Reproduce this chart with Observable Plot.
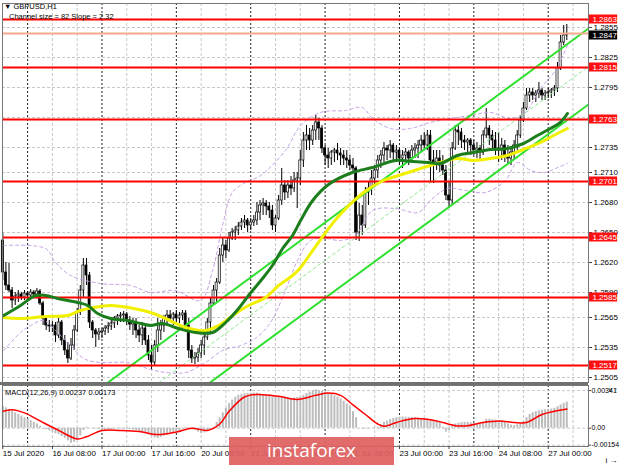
<!DOCTYPE html>
<html><head><meta charset="utf-8">
<script src="https://cdn.jsdelivr.net/npm/d3@7"></script>
<script src="https://cdn.jsdelivr.net/npm/@observablehq/plot@0.6"></script>
<style>
body{margin:0;background:#fff;}
#wrap{position:relative;width:620px;height:465px;overflow:hidden;background:#fff;font-family:"Liberation Sans",Arial,sans-serif;}
#main,#macd{position:absolute;left:0;}
#main{top:0} #macd{top:384px}
.t{position:absolute;font-size:7.5px;color:#000;white-space:nowrap;line-height:1;}
#sep{position:absolute;left:0;top:382px;width:588px;height:3px;background:#707070;}
#wm{position:absolute;left:229px;top:437px;width:165px;height:28px;background:rgba(224,96,96,0.92);color:#fff;font-family:"Open Sans",sans-serif;font-size:19px;line-height:27px;text-align:center;}
</style></head><body><div id="wrap">
<div id="main"></div><div id="macd"></div><div id="sep"></div>
<div class="t" style="left:4px;top:3px">&#9660; GBPUSD,H1</div>
<div class="t" style="left:9px;top:13px">Channel size = 82 Slope = 2.32</div>
<div class="t" style="left:5px;top:389px">MACD(12,26,9) 0.00237 0.00173</div>
<div id="wm">instaforex</div>
</div>
<script>
// ---- price data (H1 bars, 15 Jul 16:00 -> 27 Jul 06:00) ----
const firstOpen = 1.2642;
const close = [
1.2610,1.2597,1.2592,1.2582,1.2586,1.2588,1.2585,1.2589,1.2587,1.2590,
1.2588,1.2591,1.2579,1.2564,1.2557,1.2556,1.2557,1.2547,1.2560,1.2542,
1.2532,1.2524,1.2537,1.2552,1.2570,1.2592,1.2617,1.2607,1.2560,1.2552,
1.2548,1.2550,1.2551,1.2554,1.2556,1.2559,1.2564,1.2566,1.2567,1.2568,
1.2562,1.2558,1.2560,1.2552,1.2547,1.2554,1.2542,1.2527,1.2520,1.2537,
1.2552,1.2557,1.2564,1.2567,1.2564,1.2568,1.2564,1.2567,1.2569,1.2557,
1.2532,1.2524,1.2525,1.2529,1.2537,1.2545,1.2560,1.2579,1.2592,1.2600,
1.2627,1.2637,1.2632,1.2644,1.2650,1.2652,1.2656,1.2660,1.2662,1.2657,
1.2660,1.2662,1.2670,1.2677,1.2679,1.2676,1.2672,1.2657,1.2664,1.2682,
1.2697,1.2690,1.2697,1.2694,1.2702,1.2704,1.2722,1.2742,1.2747,1.2742,
1.2752,1.2760,1.2754,1.2734,1.2727,1.2724,1.2730,1.2732,1.2729,1.2727,
1.2724,1.2722,1.2717,1.2714,1.2650,1.2667,1.2657,1.2690,1.2694,1.2704,
1.2712,1.2722,1.2727,1.2734,1.2732,1.2737,1.2730,1.2732,1.2724,1.2727,
1.2730,1.2724,1.2732,1.2734,1.2737,1.2742,1.2737,1.2747,1.2722,1.2720,
1.2724,1.2717,1.2712,1.2687,1.2682,1.2734,1.2752,1.2750,1.2742,1.2740,
1.2742,1.2737,1.2732,1.2734,1.2730,1.2747,1.2754,1.2747,1.2742,1.2734,
1.2732,1.2737,1.2727,1.2724,1.2730,1.2737,1.2747,1.2762,1.2774,1.2787,
1.2790,1.2787,1.2789,1.2792,1.2787,1.2789,1.2790,1.2792,1.2794,1.2814,
1.2840,1.2847,1.2847];
const high = [
1.2649,1.2620,1.2619,1.2595,1.2590,1.2592,1.2590,1.2592,1.2591,1.2593,
1.2592,1.2594,1.2593,1.2581,1.2567,1.2562,1.2561,1.2560,1.2564,1.2562,
1.2547,1.2540,1.2544,1.2557,1.2574,1.2597,1.2624,1.2624,1.2610,1.2562,
1.2554,1.2554,1.2554,1.2557,1.2560,1.2562,1.2566,1.2568,1.2570,1.2571,
1.2570,1.2566,1.2564,1.2564,1.2557,1.2560,1.2556,1.2547,1.2537,1.2542,
1.2564,1.2562,1.2567,1.2572,1.2572,1.2570,1.2572,1.2570,1.2572,1.2572,
1.2564,1.2537,1.2530,1.2534,1.2542,1.2550,1.2564,1.2584,1.2597,1.2604,
1.2634,1.2644,1.2642,1.2650,1.2654,1.2656,1.2660,1.2664,1.2667,1.2664,
1.2664,1.2667,1.2680,1.2682,1.2684,1.2682,1.2680,1.2677,1.2667,1.2687,
1.2714,1.2702,1.2702,1.2706,1.2710,1.2710,1.2732,1.2750,1.2757,1.2754,
1.2757,1.2767,1.2764,1.2757,1.2737,1.2734,1.2732,1.2734,1.2739,1.2734,
1.2732,1.2732,1.2727,1.2724,1.2716,1.2679,1.2677,1.2695,1.2700,1.2712,
1.2717,1.2727,1.2732,1.2740,1.2737,1.2742,1.2739,1.2737,1.2734,1.2732,
1.2734,1.2732,1.2737,1.2739,1.2742,1.2747,1.2750,1.2752,1.2752,1.2732,
1.2732,1.2732,1.2727,1.2717,1.2700,1.2740,1.2757,1.2757,1.2754,1.2747,
1.2744,1.2744,1.2742,1.2740,1.2737,1.2752,1.2774,1.2757,1.2752,1.2750,
1.2750,1.2744,1.2742,1.2737,1.2734,1.2742,1.2752,1.2767,1.2780,1.2794,
1.2794,1.2794,1.2792,1.2800,1.2794,1.2792,1.2794,1.2794,1.2797,1.2820,
1.2847,1.2857,1.2858];
const low = [
1.2602,1.2592,1.2590,1.2574,1.2577,1.2580,1.2582,1.2582,1.2582,1.2584,
1.2585,1.2585,1.2577,1.2557,1.2552,1.2550,1.2550,1.2540,1.2544,1.2537,
1.2527,1.2519,1.2522,1.2532,1.2550,1.2567,1.2584,1.2597,1.2554,1.2544,
1.2535,1.2542,1.2544,1.2547,1.2549,1.2552,1.2554,1.2557,1.2560,1.2560,
1.2557,1.2552,1.2547,1.2544,1.2540,1.2537,1.2537,1.2522,1.2512,1.2516,
1.2530,1.2542,1.2550,1.2557,1.2560,1.2557,1.2560,1.2559,1.2562,1.2554,
1.2524,1.2519,1.2518,1.2520,1.2524,1.2527,1.2542,1.2550,1.2577,1.2580,
1.2598,1.2620,1.2624,1.2630,1.2642,1.2642,1.2647,1.2652,1.2654,1.2650,
1.2652,1.2656,1.2657,1.2662,1.2667,1.2667,1.2664,1.2652,1.2650,1.2662,
1.2677,1.2682,1.2684,1.2687,1.2690,1.2674,1.2697,1.2715,1.2732,1.2732,
1.2737,1.2742,1.2742,1.2729,1.2717,1.2714,1.2717,1.2720,1.2722,1.2717,
1.2717,1.2714,1.2712,1.2710,1.2642,1.2641,1.2647,1.2654,1.2677,1.2687,
1.2697,1.2704,1.2714,1.2720,1.2722,1.2724,1.2722,1.2720,1.2717,1.2714,
1.2720,1.2717,1.2720,1.2724,1.2724,1.2730,1.2732,1.2732,1.2699,1.2699,
1.2712,1.2710,1.2707,1.2682,1.2674,1.2678,1.2732,1.2737,1.2734,1.2732,
1.2730,1.2727,1.2727,1.2724,1.2722,1.2727,1.2744,1.2737,1.2732,1.2727,
1.2720,1.2722,1.2720,1.2719,1.2717,1.2722,1.2732,1.2744,1.2760,1.2772,
1.2780,1.2782,1.2780,1.2784,1.2782,1.2782,1.2784,1.2784,1.2786,1.2790,
1.2812,1.2837,1.2842];

// moving averages and bands: [bar index, price]
const maGreen = [[0.3,1.2567],[5.7,1.2577],[10.6,1.2587],[13.8,1.2587],[17.7,1.2584],[24.1,1.2580],[27.4,1.2577],[30.6,1.2569],[34.8,1.2564],[40.3,1.2562],[44.5,1.2559],[47.7,1.2557],[51.5,1.2559],[56.7,1.2554],[62.2,1.2550],[67.7,1.2550],[71.9,1.2560],[76.1,1.2574],[79.3,1.2587],[83.8,1.2604],[87,1.2617],[90.3,1.2634],[93.5,1.2647],[96.1,1.2662],[100,1.2682],[105.1,1.2698],[112.8,1.2710],[119.3,1.2715],[126.7,1.2722],[132.2,1.2721],[137.4,1.2720],[141.2,1.2719],[146.7,1.2727],[151.9,1.2730],[157.4,1.2733],[162.8,1.2734],[168,1.2739],[172.5,1.2747],[176.7,1.2754],[179.9,1.2760],[182.2,1.2769]];
const maYellow = [[0.3,1.2565],[5.7,1.2564],[13.8,1.2566],[20.9,1.2567],[25.1,1.2572],[29.3,1.2575],[34.8,1.2577],[42.2,1.2574],[47.7,1.2570],[52.5,1.2564],[59,1.2555],[65.4,1.2552],[69.6,1.2557],[75.1,1.2569],[79.3,1.2577],[84.8,1.2585],[89,1.2597],[93.5,1.2607],[96.1,1.2615],[100,1.2632],[108,1.2665],[116.4,1.2690],[122.8,1.2702],[126.7,1.2706],[133.8,1.2713],[141.2,1.2720],[146.7,1.2724],[151.9,1.2722],[157.4,1.2724],[162.8,1.2727],[168,1.2733],[173.5,1.2740],[177.7,1.2747],[182.2,1.2754]];
const bandUpper = [[0.3,1.2637],[13.8,1.2634],[17,1.2620],[21.9,1.2607],[31.5,1.2599],[41.2,1.2597],[47.7,1.2590],[55.7,1.2592],[63.8,1.2582],[67.7,1.2612],[70.9,1.2657],[74.1,1.2690],[78.3,1.2700],[83.2,1.2707],[91.2,1.2732],[96.1,1.2757],[102.5,1.2770],[110.6,1.2772],[116,1.2775],[119.3,1.2764],[125.1,1.2754],[131.5,1.2754],[138,1.2760],[144.5,1.2764],[150.9,1.2767],[157.4,1.2770],[163.8,1.2764],[168.6,1.2770],[173.5,1.2794],[178.3,1.2812],[182.2,1.2837]];
const bandLower = [[0.3,1.2532],[5.7,1.2550],[9,1.2557],[13.2,1.2562],[17,1.2552],[21.9,1.2537],[26.1,1.2524],[31.5,1.2520],[40.3,1.2520],[46.7,1.2514],[52.5,1.2510],[59,1.2510],[65.4,1.2520],[70.9,1.2532],[76.7,1.2537],[81.5,1.2544],[86.4,1.2560],[91.2,1.2592],[95.4,1.2624],[99.3,1.2642],[104.1,1.2644],[109,1.2642],[113.8,1.2647],[119.3,1.2672],[126.7,1.2674],[134,1.2670],[138,1.2682],[143.5,1.2694],[149.3,1.2692],[155.7,1.2690],[162.2,1.2702],[166,1.2720],[170.3,1.2712],[175.1,1.2710],[178.3,1.2714],[182.2,1.2719]];

// regression channel end points
const channelIdx = [30, 189];
const channelUpper = [1.2491, 1.2854];
const channelMiddle = [1.24535, 1.2816];
const channelLower = [1.2416, 1.2778];

// horizontal levels
const levels = [1.2863, 1.2815, 1.2763, 1.2701, 1.2645, 1.2585, 1.2517];
const bidLine = 1.2849;
const bidLabel = 1.2847;
const priceGrid = [1.2855,1.2825,1.2795,1.2765,1.2735,1.2710,1.2680,1.2650,1.2620,1.2590,1.2565,1.2535,1.2505];
const priceTicks = [1.2855,1.2825,1.2795,1.2735,1.2710,1.2680,1.2650,1.2620,1.2590,1.2565,1.2535,1.2505];

// time axis
const labelIdx = [0,16,32,48,64,80,96,112,128,144,160,176];
const timeLabels = ["15 Jul 2020","16 Jul 08:00","17 Jul 00:00","17 Jul 16:00","20 Jul 08:00","21 Jul 00:00","21 Jul 16:00","22 Jul 08:00","23 Jul 00:00","23 Jul 16:00","24 Jul 08:00","27 Jul 00:00"];
const gridIdx = [16,24,40,48,64,72,88,96,112,120,136,144,160,168,184];
const dayIdx = [8,32,56,80,104,128,152,176];

// MACD (12,26,9): main values per bar, in 0.00001 units
const macdMainPts = [
197,185,170,153,140,125,110,95,82,68,
52,38,18,0,-12,-24,-35,-50,-58,-75,
-92,-115,-136,-128,-107,-70,-20,9,-2,-5,
-6,-12,-20,-18,-15,-12,-8,-5,-6,-8,
-10,-14,-17,-20,-30,-38,-48,-62,-78,-88,
-92,-82,-72,-64,-52,-42,-30,-20,-5,9,
-5,-15,-20,-35,-50,-42,-30,-20,10,52,
95,139,180,225,255,280,298,305,312,315,
316,318,318,312,306,300,298,290,286,283,
278,272,269,270,274,278,283,298,315,327,
338,347,340,333,327,315,305,294,283,265,
245,220,197,150,95,0,-8,-6,-6,0,
5,9,30,52,65,78,88,95,99,101,
100,98,96,95,92,88,85,81,70,60,
55,52,10,-35,-20,20,38,45,50,52,
52,48,44,40,38,55,81,81,76,72,
68,66,52,38,28,23,30,38,60,95,
124,140,150,155,162,166,170,173,180,195,
211,225,237];
// signal line: [bar index, value in 0.00001 units]
const macdSignalPts = [[0,153],[3,168],[7,139],[12,66],[18,-20],[24,-98],[27,-78],[32,-20],[38,-20],[44,-29],[50,-58],[56,-35],[61,0],[66,-20],[70,38],[73,153],[78,283],[82,306],[89,289],[95,260],[101,298],[105,318],[109,298],[113,211],[117,124],[121,38],[123,17],[127,52],[133,87],[140,66],[146,23],[150,23],[155,52],[160,66],[165,52],[169,52],[174,124],[178,153],[182,173]];
const macdTicks = [0.00341, 0, -0.00154];

// ---- build ----
const bars = close.map((c, i) => ({i, o: i === 0 ? firstOpen : close[i - 1], h: high[i], l: low[i], c}));
const xDom = [-0.1, 189];
const font = "Liberation Sans, Arial, sans-serif";
const P = d => d[1];

const mainChart = Plot.plot({
  width: 620, height: 384, marginLeft: 2, marginRight: 32, marginTop: 3, marginBottom: 2,
  x: {domain: xDom, axis: null},
  y: {domain: [1.2500, 1.2879], axis: null},
  style: {fontFamily: font, background: "#fff"},
  marks: [
    Plot.ruleY(priceGrid, {stroke: "#c8c8c8", strokeDasharray: "3,2"}),
    Plot.ruleX(gridIdx, {stroke: "#c8c8c8", strokeDasharray: "3,2"}),
    Plot.ruleX(dayIdx, {stroke: "#222", strokeDasharray: "2,2"}),
    Plot.ruleX(bars, {x: "i", y1: d => Math.min(d.l, d.o, d.c), y2: d => Math.max(d.h, d.o, d.c), stroke: "#000", strokeWidth: 1}),
    Plot.rect(bars, {x1: d => d.i - 0.33, x2: d => d.i + 0.33,
      y1: d => Math.min(d.o, d.c), y2: d => Math.max(d.o, d.c) + (d.o === d.c ? 0.00003 : 0),
      fill: d => d.c >= d.o ? "#fff" : "#000", stroke: "#000", strokeWidth: 0.7}),
    Plot.line(bandUpper, {x: d => d[0], y: P, stroke: "#c59fe6", strokeWidth: 1, strokeDasharray: "3,3", curve: "catmull-rom"}),
    Plot.line(bandLower, {x: d => d[0], y: P, stroke: "#c59fe6", strokeWidth: 1, strokeDasharray: "3,3", curve: "catmull-rom"}),
    Plot.line(channelIdx.map((x, k) => [x, channelMiddle[k]]), {x: d => d[0], y: P, stroke: "#8fe88f", strokeWidth: 1, strokeDasharray: "3,3", clip: true}),
    Plot.line(channelIdx.map((x, k) => [x, channelUpper[k]]), {x: d => d[0], y: P, stroke: "#2fe02f", strokeWidth: 2, clip: true}),
    Plot.line(channelIdx.map((x, k) => [x, channelLower[k]]), {x: d => d[0], y: P, stroke: "#2fe02f", strokeWidth: 2, clip: true}),
    Plot.ruleY([bidLine], {stroke: "#f5a98e", strokeWidth: 2}),
    Plot.ruleY(levels, {stroke: "#ff0000", strokeWidth: 2}),
    Plot.line(maYellow, {x: d => d[0], y: P, stroke: "#f0f000", strokeWidth: 3, curve: "catmull-rom"}),
    Plot.line(maGreen, {x: d => d[0], y: P, stroke: "#1b7d1b", strokeWidth: 3, curve: "catmull-rom"}),
    Plot.frame({stroke: "#777"}),
    Plot.axisY({anchor: "right", ticks: priceTicks, tickFormat: d3.format(".4f"), tickSize: 3, tickPadding: 2, fontSize: 8, fill: "#000", stroke: "#444"}),
    Plot.rect([bidLabel], {x1: () => 189.3, x2: () => 198.4, y1: d => d - 0.00045, y2: d => d + 0.00045, fill: "#000"}),
    Plot.text([bidLabel], {x: () => 189.3, y: d => d, text: d => d.toFixed(4), fill: "#fff", textAnchor: "start", dx: 3, fontSize: 8}),
    Plot.rect(levels, {x1: () => 189.3, x2: () => 198.4, y1: d => d - 0.00045, y2: d => d + 0.00045, fill: "#ff1010"}),
    Plot.text(levels, {x: () => 189.3, y: d => d, text: d => d.toFixed(4), fill: "#fff", textAnchor: "start", dx: 3, fontSize: 8})
  ]
});
document.getElementById("main").appendChild(mainChart);

const hist = macdMainPts.map((v, i) => ({i, v: v / 1e5}));
const sig = macdSignalPts.map(([i, v]) => ({i, v: v / 1e5}));
const macdChart = Plot.plot({
  width: 620, height: 81, marginLeft: 2, marginRight: 32, marginTop: 1, marginBottom: 19,
  x: {domain: xDom, axis: null},
  y: {domain: [-0.00166, 0.00387], axis: null},
  style: {fontFamily: font, background: "#fff"},
  marks: [
    Plot.ruleX(gridIdx, {stroke: "#c8c8c8", strokeDasharray: "3,2"}),
    Plot.ruleX(dayIdx, {stroke: "#222", strokeDasharray: "2,2"}),
    Plot.ruleY(macdTicks, {stroke: "#c8c8c8", strokeDasharray: "3,2"}),
    Plot.ruleX(hist, {x: "i", y1: 0, y2: "v", stroke: "#bdbdbd", strokeWidth: 2}),
    Plot.line(sig, {x: "i", y: "v", stroke: "#ff0000", strokeWidth: 1.5, curve: "catmull-rom"}),
    Plot.frame({stroke: "#777"}),
    Plot.axisY({anchor: "right", ticks: macdTicks, tickFormat: d => d === 0 ? "0.00" : d.toFixed(5), tickSize: 2, tickPadding: 1, fontSize: 7, fill: "#000", stroke: "#444"}),
    Plot.axisX({anchor: "bottom", ticks: labelIdx, tickFormat: d => timeLabels[labelIdx.indexOf(d)], textAnchor: "start", tickSize: 3, tickPadding: 1, fontSize: 8, fill: "#000", stroke: "#444"})
  ]
});
document.getElementById("macd").appendChild(macdChart);
</script>
</body></html>
